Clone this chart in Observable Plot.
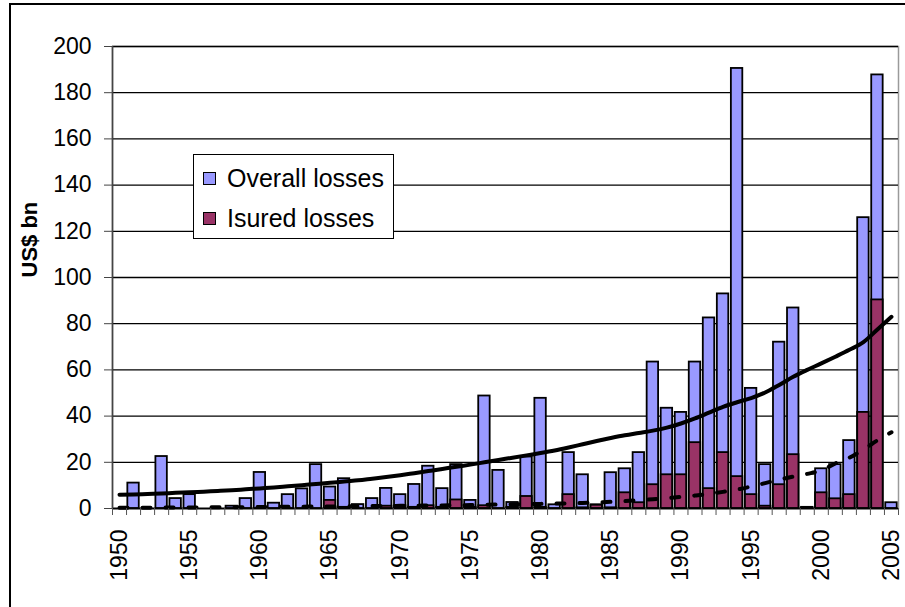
<!DOCTYPE html>
<html><head><meta charset="utf-8">
<script src="https://cdn.jsdelivr.net/npm/d3@7"></script>
<script src="https://cdn.jsdelivr.net/npm/@observablehq/plot@0.6"></script>
<style>
body{margin:0;background:#fff;overflow:hidden;}
#wrap{position:relative;width:905px;height:607px;font-family:"Liberation Sans",Arial,sans-serif;overflow:hidden;}
#frame{position:absolute;left:9px;top:3px;width:1000px;height:1000px;border-left:2px solid #000;border-top:2px solid #000;pointer-events:none;}
#chart{position:absolute;left:0;top:0;}
#legend{position:absolute;left:193px;top:154px;width:201px;height:85px;border:1px solid #000;background:#fff;box-sizing:border-box;font-size:25px;color:#000;}
.row{position:absolute;left:9px;display:flex;align-items:center;height:30px;}
.sw{width:11px;height:11px;border:1px solid #000;margin-right:11px;}
</style></head>
<body>
<div id="wrap">
  <div id="chart"></div>
  <div id="legend">
    <div class="row" style="top:8px"><span class="sw" style="background:#9999FF"></span><span>Overall losses</span></div>
    <div class="row" style="top:48px"><span class="sw" style="background:#993366"></span><span>Isured losses</span></div>
  </div>
  <div id="frame"></div>
</div>
<script>
const years = d3.range(1950, 2006);
const overall = [0, 11, 0, 22.5, 4.3, 6, 0, 0, 1, 4.3,
  15.6, 2.3, 6, 8.5, 19, 9.3, 12.9, 1.7, 4.3, 8.7,
  6, 10.4, 18.3, 8.6, 19, 3.5, 48.7, 16.5, 2.6, 22.3,
  47.7, 1.6, 24.2, 14.6, 1.6, 15.5, 17.2, 24.2, 63.4, 43.4,
  41.6, 63.4, 82.5, 92.9, 190.5, 52, 19, 72, 86.8, 0.5,
  17.2, 19, 29.4, 125.9, 187.7, 2.5];
const insured = [0, 0, 0, 0, 0, 0, 0, 0, 0, 0,
  0, 0, 0, 0, 0, 3.5, 0.5, 0, 0, 1,
  1.2, 0.5, 1.2, 0.5, 3.7, 0.5, 1.2, 0, 0.5, 5.2,
  0.5, 0, 6, 0.3, 1.4, 0.3, 6.8, 2.5, 10.3, 14.6,
  14.6, 28.5, 8.6, 24.2, 13.8, 6, 1, 10.3, 23.3, 0.2,
  6.8, 4.2, 6, 41.6, 90.3, 0];
const overallTrend = [6.0, 6.1, 6.3, 6.5, 6.8, 7.0, 7.3, 7.6, 7.9, 8.3,
  8.7, 9.1, 9.6, 10.1, 10.6, 11.1, 11.7, 12.2, 12.9, 13.6,
  14.4, 15.3, 16.2, 17.1, 18.1, 19.0, 20.0, 21.0, 22.0, 23.0,
  24.0, 25.1, 26.4, 27.8, 29.2, 30.5, 31.7, 32.7, 33.7, 35.0,
  36.8, 39.0, 41.5, 44.0, 46.0, 47.8, 50.2, 53.5, 57.0, 60.0,
  62.8, 65.7, 68.7, 72.0, 77.5, 83.0];
const insuredTrend = [0.3, 0.3, 0.35, 0.4, 0.4, 0.45, 0.5, 0.5, 0.55, 0.6,
  0.65, 0.7, 0.75, 0.8, 0.85, 0.9, 0.95, 1.0, 1.05, 1.1,
  1.15, 1.2, 1.3, 1.35, 1.4, 1.5, 1.6, 1.7, 1.8, 1.9,
  2.0, 2.1, 2.2, 2.4, 2.6, 2.9, 3.2, 3.6, 4.0, 4.5,
  5.0, 5.6, 6.3, 7.2, 8.2, 9.5, 11.0, 12.5, 13.8, 15.0,
  16.5, 19.5, 22.0, 25.5, 29.5, 33.0];
const yTicks = d3.range(0, 201, 20);
const labelYears = [1950, 1955, 1960, 1965, 1970, 1975, 1980, 1985, 1990, 1995, 2000, 2005];
const yTitle = "US$ bn";

const rows = years.map((year, i) => ({year, overall: overall[i], insured: insured[i], ot: overallTrend[i], it: insuredTrend[i]}));

const chart = Plot.plot({
  width: 905, height: 607,
  marginLeft: 112, marginRight: 7, marginTop: 46, marginBottom: 99,
  style: {fontFamily: "Liberation Sans, Arial, sans-serif", fontSize: "23px", background: "transparent", color: "#000"},
  x: {type: "linear", domain: [1950, 2006]},
  y: {domain: [0, 200]},
  marks: [
    Plot.frame({stroke: "#9a9a9a", strokeWidth: 1.5}),
    Plot.ruleY(yTicks, {stroke: "#000", strokeWidth: 1.3}),
    Plot.rectY(rows.filter(d => d.overall > 0), {x1: "year", x2: d => d.year + 1, y: "overall", fill: "#9999FF", stroke: "#000", strokeWidth: 1.8, insetLeft: 1.3, insetRight: 1.3}),
    Plot.rectY(rows.filter(d => d.insured > 0), {x1: "year", x2: d => d.year + 1, y: "insured", fill: "#993366", stroke: "#000", strokeWidth: 1.8, insetLeft: 1.3, insetRight: 1.3}),
    Plot.line(rows, {x: d => d.year + 0.5, y: "it", stroke: "#000", strokeWidth: 4, strokeDasharray: "8,15", curve: "monotone-x"}),
    Plot.line(rows, {x: d => d.year + 0.5, y: "ot", stroke: "#000", strokeWidth: 4, curve: "monotone-x"}),
    Plot.ruleY([0], {stroke: "#000", strokeWidth: 1.6}),
    Plot.ruleX([1950], {stroke: "#444", strokeWidth: 1.6}),
    Plot.axisY({ticks: yTicks, tickSize: 8, tickPadding: 13, fontSize: 23, label: null, stroke: "#444"}),
    Plot.axisX({ticks: d3.range(1950, 2007), tickSize: 7, tickFormat: () => "", label: null, stroke: "#555"}),
    Plot.axisX({ticks: labelYears.map(y => y + 0.5), tickSize: 0, tickPadding: 21, tickRotate: -90, tickFormat: d => String(Math.floor(d)), fontSize: 23, label: null}),
    Plot.text([yTitle], {frameAnchor: "left", dx: -83, rotate: -90, fontWeight: "bold", fontSize: 22})
  ]
});
document.getElementById("chart").appendChild(chart);
</script>
</body></html>
